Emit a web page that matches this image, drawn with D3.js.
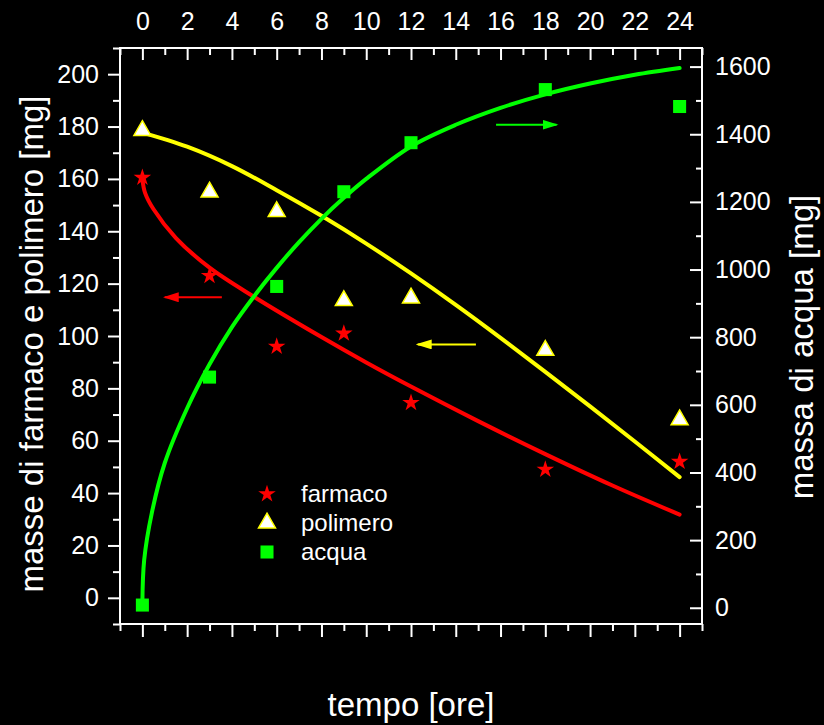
<!DOCTYPE html>
<html>
<head>
<meta charset="utf-8">
<script src="https://cdn.jsdelivr.net/npm/d3@7"></script>
<style>
  html, body { margin: 0; padding: 0; background: #000; }
  svg { display: block; font-family: "Liberation Sans", Arial, sans-serif; }
</style>
</head>
<body>
<div id="chart"></div>
<script>
// tempi delle misure [ore]
const tempi = [0, 3, 6, 9, 12, 18, 24];
// masse misurate
const farmaco = [160.5, 123, 96, 101, 74.5, 49, 52];
const polimero = [178.5, 155, 147.5, 113.5, 114.5, 94.5, 68];
const acqua = [8, 682, 950, 1230, 1375, 1532, 1482];

// curve di fit
const fitFarmacoT = [0, 0.12, 0.5, 1.5, 3, 5, 8, 10, 12, 15, 18, 21, 24];
const fitFarmacoV = [160, 154.7, 148.4, 137.4, 126.1, 114.9, 99.6, 89.9, 80.7, 67.5, 54.9, 42.9, 31.8];
const fitPolimeroT = [0, 2, 4, 6, 8, 10, 12, 14, 16, 18, 20, 22, 24];
const fitPolimeroV = [177.7, 172.3, 164.9, 155.7, 145.9, 135.3, 123.9, 111.9, 99.3, 86.3, 73.1, 59.7, 46.1];
const fitAcquaT = [0, 0.08, 0.42, 1, 2, 3, 4, 5, 6, 7, 8, 9, 10, 12, 14, 16, 18, 20, 22, 24];
const fitAcquaV = [15, 141, 280, 428, 590, 720, 830, 922, 1005, 1081, 1150, 1212, 1268, 1364, 1428, 1478, 1518, 1550, 1576, 1596];

// frecce (in coordinate dei dati)
const frecce = [
  {asse: 'sx', t0: 3.55, t1: 1.0, v: 114.8, colore: '#ff0000'},
  {asse: 'sx', t0: 14.9, t1: 12.3, v: 96.8, colore: '#ffff00'},
  {asse: 'dx', t0: 15.8, t1: 18.5, v: 1428, colore: '#00ff00'}
];

const xTicksMaggiori = d3.range(0, 25, 2);
const xTicksMinori = d3.range(-1, 26, 2);
const ySxMaggiori = d3.range(0, 201, 20);
const ySxMinori = d3.range(-10, 211, 20);
const yDxMaggiori = d3.range(0, 1601, 200);
const yDxMinori = d3.range(100, 1601, 200);

const W = 824, H = 725;
const box = {left: 120, right: 702, top: 48, bottom: 624};

const svg = d3.select('#chart').append('svg')
  .attr('width', W)
  .attr('height', H);

svg.append('rect').attr('width', W).attr('height', H).attr('fill', '#000');

const x = d3.scaleLinear().domain([-1, 25]).range([box.left, box.right]);
const ySx = d3.scaleLinear().domain([-10, 210]).range([box.bottom, box.top]);
const yDx = d3.scaleLinear().domain([-48, 1655]).range([box.bottom, box.top]);
const fmt = d3.format('d');

function stile(g) {
  g.select('.domain').remove();
  g.selectAll('line').attr('stroke', '#fff').attr('stroke-width', 2);
  g.selectAll('text').attr('fill', '#fff').style('font-size', '25px');
}

// asse superiore (con etichette, tacche verso l'interno)
svg.append('g')
  .attr('transform', `translate(0,${box.top})`)
  .call(d3.axisTop(x).tickValues(xTicksMaggiori).tickFormat(fmt).tickSizeInner(-12).tickSizeOuter(0).tickPadding(18))
  .call(stile);
svg.append('g')
  .attr('transform', `translate(0,${box.top})`)
  .call(d3.axisTop(x).tickValues(xTicksMinori).tickSizeInner(-7).tickSizeOuter(0).tickFormat(''))
  .call(stile);

// asse inferiore (solo tacche, verso l'esterno)
svg.append('g')
  .attr('transform', `translate(0,${box.bottom})`)
  .call(d3.axisBottom(x).tickValues(xTicksMaggiori).tickSizeInner(13).tickSizeOuter(0).tickFormat(''))
  .call(stile);
svg.append('g')
  .attr('transform', `translate(0,${box.bottom})`)
  .call(d3.axisBottom(x).tickValues(xTicksMinori).tickSizeInner(7).tickSizeOuter(0).tickFormat(''))
  .call(stile);

// asse sinistro
svg.append('g')
  .attr('transform', `translate(${box.left},0)`)
  .call(d3.axisLeft(ySx).tickValues(ySxMaggiori).tickFormat(fmt).tickSizeInner(12).tickSizeOuter(0).tickPadding(9))
  .call(stile);
svg.append('g')
  .attr('transform', `translate(${box.left},0)`)
  .call(d3.axisLeft(ySx).tickValues(ySxMinori).tickSizeInner(7).tickSizeOuter(0).tickFormat(''))
  .call(stile);

// asse destro (tacche verso l'interno)
svg.append('g')
  .attr('transform', `translate(${box.right},0)`)
  .call(d3.axisRight(yDx).tickValues(yDxMaggiori).tickFormat(fmt).tickSizeInner(-12).tickSizeOuter(0).tickPadding(13))
  .call(stile);
svg.append('g')
  .attr('transform', `translate(${box.right},0)`)
  .call(d3.axisRight(yDx).tickValues(yDxMinori).tickSizeInner(-6).tickSizeOuter(0).tickFormat(''))
  .call(stile);

// cornice
svg.append('rect')
  .attr('x', box.left).attr('y', box.top)
  .attr('width', box.right - box.left).attr('height', box.bottom - box.top)
  .attr('fill', 'none').attr('stroke', '#fff').attr('stroke-width', 2);

// curve di fit
const plot = svg.append('g');

function disegnaCurva(ts, vs, scalaY, colore) {
  const pts = ts.map((t, i) => [x(t), scalaY(vs[i])]);
  plot.append('path')
    .attr('d', d3.line().curve(d3.curveCatmullRom.alpha(0.5))(pts))
    .attr('fill', 'none')
    .attr('stroke', colore)
    .attr('stroke-width', 4)
    .attr('stroke-linecap', 'round');
}

disegnaCurva(fitFarmacoT, fitFarmacoV, ySx, '#ff0000');
disegnaCurva(fitPolimeroT, fitPolimeroV, ySx, '#ffff00');
disegnaCurva(fitAcquaT, fitAcquaV, yDx, '#00ff00');

// frecce
const defs = svg.append('defs');
frecce.forEach((f, i) => {
  defs.append('marker')
    .attr('id', 'punta' + i)
    .attr('viewBox', '0 0 16 10')
    .attr('refX', 14).attr('refY', 5)
    .attr('markerWidth', 8).attr('markerHeight', 5)
    .attr('markerUnits', 'strokeWidth')
    .attr('orient', 'auto')
    .append('path')
    .attr('d', 'M0,0 L16,5 L0,10 Z')
    .attr('fill', f.colore);
  const sc = f.asse === 'sx' ? ySx : yDx;
  plot.append('line')
    .attr('x1', x(f.t0)).attr('x2', x(f.t1))
    .attr('y1', sc(f.v)).attr('y2', sc(f.v))
    .attr('stroke', f.colore)
    .attr('stroke-width', 2)
    .attr('marker-end', `url(#punta${i})`);
});

// simboli
const stella = d3.symbol().type(d3.symbolStar).size(95);
const triangolo = d3.symbol().type(d3.symbolTriangle).size(125);
const quadrato = d3.symbol().type(d3.symbolSquare).size(170);

plot.selectAll('.acqua')
  .data(tempi)
  .enter()
  .append('path')
  .attr('class', 'acqua')
  .attr('d', quadrato)
  .attr('transform', (t, i) => `translate(${x(t)},${yDx(acqua[i])})`)
  .attr('fill', '#00ff00');

plot.selectAll('.polimero')
  .data(tempi)
  .enter()
  .append('path')
  .attr('class', 'polimero')
  .attr('d', triangolo)
  .attr('transform', (t, i) => `translate(${x(t)},${ySx(polimero[i])})`)
  .attr('fill', '#fff')
  .attr('stroke', '#ffff00')
  .attr('stroke-width', 1.5);

plot.selectAll('.farmaco')
  .data(tempi)
  .enter()
  .append('path')
  .attr('class', 'farmaco')
  .attr('d', stella)
  .attr('transform', (t, i) => `translate(${x(t)},${ySx(farmaco[i])})`)
  .attr('fill', '#ff0000');

// legenda
const voci = [
  {nome: 'farmaco', simbolo: stella, fill: '#ff0000', stroke: 'none'},
  {nome: 'polimero', simbolo: triangolo, fill: '#fff', stroke: '#ffff00'},
  {nome: 'acqua', simbolo: quadrato, fill: '#00ff00', stroke: 'none'}
];
const legenda = svg.append('g').attr('transform', 'translate(267,494)');
const righe = legenda.selectAll('.voce')
  .data(voci)
  .enter()
  .append('g')
  .attr('class', 'voce')
  .attr('transform', (d, i) => `translate(0,${i * 29})`);
righe.append('path')
  .attr('d', d => d.simbolo())
  .attr('fill', d => d.fill)
  .attr('stroke', d => d.stroke)
  .attr('stroke-width', 1.5);
righe.append('text')
  .attr('x', 34)
  .attr('y', 8)
  .attr('fill', '#fff')
  .style('font-size', '24px')
  .text(d => d.nome);

// titoli degli assi
svg.append('text')
  .attr('x', 411).attr('y', 716)
  .attr('text-anchor', 'middle')
  .attr('fill', '#fff')
  .style('font-size', '33px')
  .text('tempo [ore]');

svg.append('text')
  .attr('transform', 'translate(43,344) rotate(-90)')
  .attr('text-anchor', 'middle')
  .attr('fill', '#fff')
  .style('font-size', '33px')
  .text('masse di farmaco e polimero [mg]');

svg.append('text')
  .attr('transform', 'translate(813,347) rotate(-90)')
  .attr('text-anchor', 'middle')
  .attr('fill', '#fff')
  .style('font-size', '33px')
  .text('massa di acqua [mg]');
</script>
</body>
</html>
